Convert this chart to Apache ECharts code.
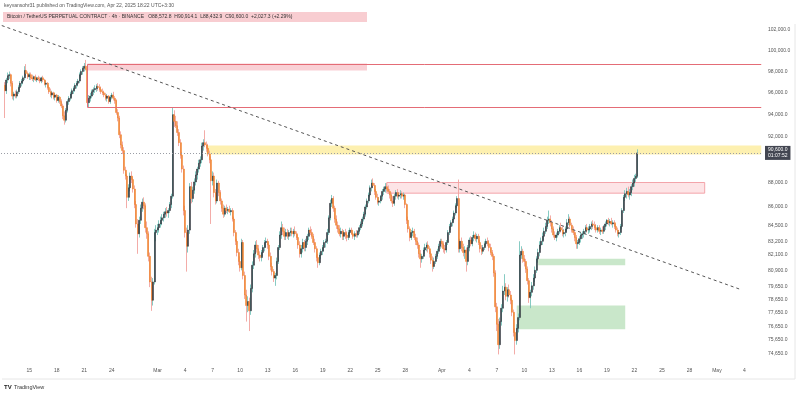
<!DOCTYPE html>
<html><head><meta charset="utf-8">
<script src="https://cdn.jsdelivr.net/npm/echarts@6/dist/echarts.min.js"></script>
<style>html,body{margin:0;padding:0;background:#fff}#c{width:800px;height:394px}</style>
</head><body><div id="c"></div>
<script>
// ---- axis definition ----
const axisStartUTC = [2025, 1, 12];          // 2025-02-12 00:00, 4h slots
const axisSlots = 498;                       // through 2025-05-05 20:00
const firstCandle = '2025-02-12 08:00';

// ---- BTCUSDT.P 4h candles: [open, high, low, close], one line per day ----
const candles = [
[96700,97000,93700,96200],[96200,97400,95900,97200],[97200,97900,96900,97600],[97600,98000,97300,97700],
[97700,97800,96600,96900],[96900,97100,95400,95700],[95700,96100,95300,95900],[95900,96200,95500,95700],[95700,96300,95500,96100],[96100,96700,95900,96500],
[96500,97100,96300,96900],[96900,97300,96600,97100],[97100,97600,96800,97400],[97400,98500,97200,98100],[98100,98700,97600,97800],[97800,98000,97300,97500],
[97500,97900,97200,97700],[97700,97900,97200,97400],[97400,97700,97100,97300],[97300,97600,97000,97500],[97500,97700,97100,97200],[97200,97500,97000,97400],
[97400,97600,97100,97300],[97300,97500,96900,97100],[97100,97500,96900,97400],[97400,97600,97000,97200],[97200,97300,96700,96800],[96800,97100,96500,96900],
[96900,97000,96300,96500],[96500,96700,95900,96100],[96100,96400,95600,95800],[95800,96200,95500,96000],[96000,96100,95400,95600],[95600,96000,95300,95800],
[95800,95900,95100,95300],[95300,95800,95100,95600],[95600,95700,95000,95200],[95200,95400,94600,94800],[94800,95000,93600,93900],[93900,94300,93100,93500],
[93500,94600,93300,94400],[94400,95400,94200,95200],[95200,95700,94900,95500],[95500,96100,95300,95900],[95900,96400,95600,96200],[96200,96600,95900,96400],
[96400,96900,96100,96700],[96700,97100,96400,96900],[96900,97300,96600,97100],[97100,97900,96900,97700],[97700,98200,97400,98000],[98000,98500,97700,98300],
[98300,98800,98000,98500],[98500,99100,98100,98200],[98200,98600,94700,95100],[95100,95800,94700,95500],[95500,96000,95200,95700],[95700,96300,95500,96100],
[96100,96500,95800,96300],[96300,96700,96000,96400],[96400,96800,96100,96600],[96600,96900,96200,96500],[96500,96800,96100,96300],[96300,96600,95900,96100],
[96100,96400,95800,96000],[96000,96200,95600,95800],[95800,96000,95300,95500],[95500,95900,95200,95700],[95700,95800,95000,95200],[95200,95800,95000,95600],
[95600,96000,95400,95800],[95800,96100,95300,95500],[95500,95700,95000,95300],[95300,95400,94000,94200],[94200,94500,93400,93700],[93700,93900,91900,92200],
[92200,92500,91000,91300],[91300,91600,90500,90800],[90800,91100,88800,89100],[89100,89400,88300,88600],[88600,88800,85900,86800],[86800,87900,86500,87600],
[87600,88900,87300,88600],[88600,89000,88000,88300],[88300,88500,87200,87500],[87500,87800,85900,86200],[86200,86500,84300,84600],[84600,85000,82200,83800],
[83800,85200,83500,84900],[84900,86200,84600,85900],[85900,86700,85600,86400],[86400,86800,85800,86100],[86100,86300,83900,84300],[84300,84800,83400,83800],
[83800,84000,81600,82000],[82000,82300,79600,80000],[80000,80400,77800,78600],[78600,80300,78200,80000],[80000,84200,79800,83900],[83900,84500,83200,84100],
[84100,84600,83700,84300],[84300,84900,83900,84600],[84600,85200,84300,84900],[84900,85400,84500,85100],[85100,85600,84800,85400],[85400,85900,85100,85600],
[85600,86000,85200,85500],[85500,85900,85100,85700],[85700,86400,85500,86200],[86200,87100,85900,86900],[86900,94700,86700,94000],[94000,94400,92900,93400],
[93400,93900,92800,93000],[93000,93400,92100,92400],[92400,92700,91200,91500],[91500,91800,90100,90400],[90400,90700,88900,89200],[89200,89500,85300,85700],
[85700,86100,83500,83900],[83900,84300,80800,82800],[82800,84500,82300,84100],[84100,88000,83800,87700],[87700,88100,86300,86700],[86700,87700,86400,87400],
[87400,88400,87100,88100],[88100,89000,87800,88700],[88700,89400,88300,89200],[89200,90000,88900,89700],[89700,90300,89400,90000],[90000,91500,89700,91200],
[91200,91800,90800,91500],[91500,92600,91100,91300],[91300,91600,90700,91000],[91000,91400,90300,90500],[90500,90800,89700,90000],[90000,90300,84600,88200],
[88200,89000,87800,88600],[88600,88900,86800,87200],[87200,87500,86200,86500],[86500,88300,86300,88000],[88000,88200,86900,87200],[87200,87400,86200,86500],
[86500,86700,85600,85900],[85900,86200,85100,85400],[85400,86100,85200,85900],[85900,86200,85500,85700],[85700,86000,85400,85800],[85800,86100,85500,85600],
[85600,85900,85300,85700],[85700,85900,84800,85000],[85000,85200,83600,83900],[83900,84100,82900,83200],[83200,83400,82000,82300],[82300,82600,81300,81600],
[81600,82000,80800,81100],[81100,83400,80900,83100],[83100,83300,80200,80500],[80500,80800,78700,79000],[79000,79400,77000,78200],[78200,78900,77700,78500],
[78500,78800,76300,77800],[77800,79800,77500,79500],[79500,81600,79200,81300],[81300,82500,81000,82200],[82200,83200,81900,82900],[82900,83300,82300,82600],
[82600,82900,81800,82100],[82100,82400,81600,81900],[81900,82500,81600,82300],[82300,82900,82000,82700],[82700,83300,82400,83100],[83100,83500,82700,83200],
[83200,83400,82600,82900],[82900,83100,81700,82000],[82000,82300,80900,81200],[81200,81500,80500,80800],[80800,81000,80000,80300],[80300,80700,79700,80500],
[80500,81900,80200,81600],[81600,82900,81400,82700],[82700,84000,82500,83700],[83700,84800,83400,84300],[84300,84600,83700,84000],[84000,84300,83300,83600],
[83600,84200,83300,83900],[83900,84200,83400,83600],[83600,84100,83300,83900],[83900,84300,83600,84000],[84000,84300,83600,83800],[83800,84200,83500,84000],
[84000,84400,83600,83800],[83800,84000,83300,83500],[83500,83700,82600,82900],[82900,83200,81900,82200],[82200,82900,81900,82600],[82600,83400,82300,83100],
[83100,83300,82400,82700],[82700,83400,82400,83200],[83200,83800,82900,83600],[83600,84300,83300,84100],[84100,84400,83700,83900],[83900,84200,83400,83600],
[83600,83800,82900,83100],[83100,83400,82300,82600],[82600,82800,81600,81900],[81900,82200,81100,81500],[81500,82300,81300,82100],[82100,82600,81800,82400],
[82400,82900,82100,82700],[82700,83300,82400,83100],[83100,83400,82700,83200],[83200,84200,83000,83900],[83900,85300,83700,85100],[85100,86600,84900,86300],
[86300,87000,86000,86700],[86700,86900,85600,85900],[85900,86100,84700,85000],[85000,85300,84200,84500],[84500,84800,83900,84200],[84200,84500,83600,83800],
[83800,84300,83500,84000],[84000,84200,83300,83600],[83600,84100,83300,83900],[83900,84200,83400,83700],[83700,84000,83200,83500],[83500,84100,83300,83900],
[83900,84300,83600,84100],[84100,84300,83700,83800],[83800,84000,83400,83600],[83600,84000,83300,83800],[83800,84100,83500,83700],[83700,84100,83500,84000],
[84000,84500,83800,84300],[84300,84800,84100,84600],[84600,85200,84400,85000],[85000,85600,84800,85400],[85400,86200,85200,86000],[86000,86700,85800,86500],
[86500,87200,86300,87000],[87000,87800,86800,87600],[87600,88300,87300,88000],[88000,88400,87600,87800],[87800,88000,87000,87300],[87300,87500,86600,86800],
[86800,87100,86200,86400],[86400,86800,86100,86500],[86500,87000,86300,86900],[86900,87500,86600,87300],[87300,87700,87000,87500],[87500,88000,87200,87700],
[87700,88000,87300,87500],[87500,87800,87100,87300],[87300,87500,86700,87000],[87000,87200,86300,86500],[86500,86900,86000,86300],[86300,87100,86100,86900],
[86900,87400,86600,87200],[87200,87500,86700,86900],[86900,87200,86600,87000],[87000,87400,86700,87100],[87100,87300,86700,86900],[86900,87200,86600,87000],
[87000,87100,85900,86200],[86200,86300,84600,84900],[84900,85200,83900,84200],[84200,84400,83200,83500],[83500,84100,83300,83900],[83900,84300,83600,84000],
[84000,84200,83300,83500],[83500,83800,82900,83200],[83200,83500,82600,82900],[82900,83100,81900,82200],[82200,82500,81100,81800],[81800,82200,81500,82000],
[82000,82700,81800,82500],[82500,83000,82200,82700],[82700,83100,82400,82900],[82900,83200,82300,82600],[82600,82800,81900,82200],[82200,82400,81400,81700],
[81700,82000,80800,81200],[81200,81900,81000,81600],[81600,82200,81400,82000],[82000,82600,81800,82400],[82400,83000,82200,82800],[82800,83400,82600,83200],
[83200,83400,82700,83000],[83000,83200,82300,82600],[82600,82900,82200,82500],[82500,83300,82300,83100],[83100,84100,82900,83900],[83900,84600,83700,84400],
[84400,84900,84100,84700],[84700,85200,84400,85000],[85000,85700,84800,85500],[85500,86300,85300,86100],[86100,86900,85900,86700],[86700,88300,82300,82600],
[82600,83400,82300,83200],[83200,83500,82400,82700],[82700,83000,82000,82300],[82300,82800,81800,82500],[82500,82700,80800,81600],[81600,82900,81300,82700],
[82700,83500,82400,83300],[83300,83600,82800,83000],[83000,83700,82800,83500],[83500,84000,83200,83700],[83700,83900,83200,83400],[83400,83800,83100,83600],
[83600,83800,82900,83100],[83100,83300,82300,82600],[82600,82900,82100,82400],[82400,82900,82200,82700],[82700,83200,82500,83000],[83000,83400,82800,83200],
[83200,83500,82800,83000],[83000,83300,82400,82700],[82700,83000,82100,82300],[82300,82500,81700,82000],[82000,82200,80400,80700],[80700,80900,77700,78100],
[78100,78400,76300,76800],[76800,77200,74600,75300],[75300,77300,75000,77000],[77000,78300,76700,78000],[78000,79700,77700,79300],[79300,80600,79000,79600],
[79600,79900,78600,78900],[78900,79600,78500,79400],[79400,79800,78800,79000],[79000,79300,78300,78600],[78600,78800,77400,77700],[77700,77900,75900,76200],
[76200,76500,74600,75600],[75600,76800,75300,76500],[76500,77600,76200,77300],[77300,83200,77100,82100],[82100,82800,81800,82400],[82400,82600,81500,81800],
[81800,82100,81200,81600],[81600,81800,80700,81000],[81000,81200,79800,80100],[80100,80300,78400,78800],[78800,79400,78000,79200],[79200,80000,78900,79700],
[79700,80600,79400,80300],[80300,81200,80000,80900],[80900,82000,80700,81800],[81800,82600,81500,82300],[82300,83200,82000,82900],[82900,83500,82600,83200],
[83200,83900,82900,83600],[83600,84300,83300,84000],[84000,84700,83800,84400],[84400,85200,84200,84900],[84900,85700,84600,85000],[85000,85300,84400,84700],
[84700,84900,83900,84200],[84200,84400,83500,83700],[83700,84000,83300,83500],[83500,83900,83200,83700],[83700,84200,83500,84000],[84000,84500,83800,84300],
[84300,84700,83900,84100],[84100,84400,83600,83800],[83800,84200,83500,83900],[83900,84400,83600,84200],[84200,85000,84000,84700],[84700,85400,84500,85000],
[85000,85200,84300,84500],[84500,84700,83900,84100],[84100,84400,83700,83900],[83900,84100,83200,83500],[83500,83700,82600,83000],[83000,83300,82600,83100],
[83100,83600,82900,83400],[83400,83900,83100,83700],[83700,84000,83400,83800],[83800,84200,83500,84000],[84000,84500,83800,84300],[84300,84600,83900,84100],
[84100,84400,83800,84200],[84200,84600,83900,84400],[84400,84800,84100,84600],[84600,84900,84200,84500],[84500,84800,84100,84300],[84300,84600,83900,84100],
[84100,84500,83900,84300],[84300,84500,83800,84000],[84000,84300,83700,84100],[84100,84400,83800,84000],[84000,84500,83800,84400],[84400,84800,84100,84600],
[84600,85000,84400,84900],[84900,85100,84500,84700],[84700,85000,84400,84800],[84800,85100,84500,84600],[84600,84900,84300,84700],[84700,84900,84200,84400],
[84400,84600,83900,84100],[84100,84300,83600,83800],[83800,84100,83500,83900],[83900,84600,83700,84400],[84400,85900,84200,85700],[85700,87000,85500,86800],
[86800,87400,86500,87100],[87100,87600,86700,87300],[87300,87700,86800,87000],[87000,87500,86600,87200],[87200,87900,86900,87700],[87700,88300,87400,88000],
[88000,88700,87700,88400],[88400,88800,88100,88573],[88573,90914,88433,90600]
];

// ---- axes ----
const priceTicks = [102000,100000,98000,96000,94000,92000,88000,86000,84500,83200,82100,80900,79650,78650,77650,76650,75650,74650];
const dateTicks = ['02-15','02-18','02-21','02-24','03-01','03-04','03-07','03-10','03-13','03-16','03-19','03-22','03-25','03-28',
                   '04-01','04-04','04-07','04-10','04-13','04-16','04-19','04-22','04-25','04-28','05-01','05-04'];
const monthNames = {'02':'Feb','03':'Mar','04':'Apr','05':'May'};
const yMin = 74056, yMax = 102691;
const lastPrice = 90600;
const countdown = '01:07:52';

// ---- drawings (time, price) ----
const supplyBand   = ['2025-02-21 08:00', '2025-03-23 20:00', 98100, 98750];
const redLevels    = [98650, 94700];
const redStart     = '2025-02-21 08:00';
const yellowZone   = ['2025-03-06 08:00', null, 90450, 91250];
const resistBox    = ['2025-03-26 00:00', '2025-04-29 16:00', 87150, 88050];
const demandUpper  = ['2025-04-11 12:00', '2025-04-21 00:00', 81290, 81800];
const demandLower  = ['2025-04-09 04:00', '2025-04-21 00:00', 76430, 78200];
const trendline    = [['2025-02-12 00:00', 102440], ['2025-05-03 16:00', 79400]];

// ---- build ----
const pad = n => String(n).padStart(2, '0');
const fmtT = ms => { const d = new Date(ms); return d.getUTCFullYear() + '-' + pad(d.getUTCMonth()+1) + '-' + pad(d.getUTCDate()) + ' ' + pad(d.getUTCHours()) + ':' + pad(d.getUTCMinutes()); };
const t0 = Date.UTC(axisStartUTC[0], axisStartUTC[1], axisStartUTC[2]);
const categories = [];
for (let i = 0; i < axisSlots; i++) categories.push(fmtT(t0 + i * 4 * 3600e3));
const lastCat = categories[categories.length - 1];
const startIdx = categories.indexOf(firstCandle);
const tickSet = new Set(dateTicks.map(d => '2025-' + d + ' 00:00'));

const wickData = candles.map((c, k) => [categories[startIdx + k], c[0], c[3], c[2], c[1]]);
const bodyData = candles.map((c, k) => [categories[startIdx + k], c[0], c[3], Math.min(c[0], c[3]), Math.max(c[0], c[3])]);

const fmtPrice = v => Number(v).toLocaleString('en-US', {minimumFractionDigits: 1, maximumFractionDigits: 1});
const FONT = '"Liberation Sans", Arial, sans-serif';

function area(z, style) {
  return [{xAxis: z[0], yAxis: z[2], itemStyle: style}, {xAxis: z[1] || lastCat, yAxis: z[3]}];
}
const redStyle = {color: '#e46c76', width: 1, type: 'solid'};

const chart = echarts.init(document.getElementById('c'), null, {renderer: 'canvas'});
chart.setOption({
  animation: false,
  backgroundColor: '#ffffff',
  textStyle: {fontFamily: FONT},
  grid: {left: 1, right: 38, top: 23, bottom: 32, containLabel: false},
  xAxis: {
    type: 'category', data: categories, boundaryGap: true,
    axisLine: {show: false}, axisTick: {show: false}, splitLine: {show: false},
    axisLabel: {
      interval: (i, v) => tickSet.has(v),
      formatter: v => { const m = v.slice(5, 7), d = v.slice(8, 10); return d === '01' ? monthNames[m] : String(+d); },
      fontSize: 5, color: '#555', margin: 6, fontFamily: FONT
    }
  },
  yAxis: {
    type: 'log', position: 'right', min: yMin, max: yMax,
    axisLine: {show: false}, axisTick: {show: false}, splitLine: {show: false},
    axisLabel: {customValues: priceTicks, formatter: v => fmtPrice(v), fontSize: 5, color: '#555', margin: 6, fontFamily: FONT}
  },
  series: [
    {
      name: 'drawings', type: 'line', data: [], z: 1, silent: true,
      markArea: {
        silent: true,
        data: [
          area(supplyBand,  {color: '#f9d0d5'}),
          area(yellowZone,  {color: '#fdf0b0'}),
          area(resistBox,   {color: '#fde4e6', borderColor: '#f3a4aa', borderWidth: 1}),
          area(demandUpper, {color: '#c9e7ca'}),
          area(demandLower, {color: '#c9e7ca'})
        ]
      },
      markLine: {
        silent: true, symbol: ['none', 'none'], label: {show: false},
        data: [
          [{coord: [redStart, redLevels[0]], lineStyle: redStyle}, {coord: [lastCat, redLevels[0]]}],
          [{coord: [redStart, redLevels[1]], lineStyle: redStyle}, {coord: [lastCat, redLevels[1]]}],
          [{coord: [redStart, redLevels[0]], lineStyle: redStyle}, {coord: [redStart, redLevels[1]]}],
          [{coord: trendline[0], lineStyle: {color: '#555', width: 1, type: [3, 3]}}, {coord: trendline[1]}],
          {yAxis: lastPrice, lineStyle: {color: '#9a9da5', width: 1, type: [1, 2]},
           label: {show: true, position: 'end', distance: 3, formatter: fmtPrice(lastPrice) + '\n' + countdown,
                   backgroundColor: '#434651', color: '#fff', fontSize: 5, lineHeight: 6, padding: [1, 3], fontFamily: FONT}}
        ]
      }
    },
    {
      name: 'wicks', type: 'candlestick', data: wickData, encode: {x: 0, y: [1, 2, 3, 4]},
      z: 3, large: false, barWidth: 0.4, silent: true,
      itemStyle: {color: '#79c5bc', color0: '#f2a39e', borderColor: '#79c5bc', borderColor0: '#f2a39e', borderWidth: 0.9}
    },
    {
      name: 'bodies', type: 'candlestick', data: bodyData, encode: {x: 0, y: [1, 2, 3, 4]},
      z: 4, large: false, barWidth: 1.5, silent: true,
      itemStyle: {color: '#2f323a', color0: '#f0842e', borderColor: '#2f323a', borderColor0: '#f0842e', borderWidth: 0.5}
    }
  ],
  graphic: [
    {type: 'text', left: 4, top: 3, style: {text: 'keyvansohr31 published on TradingView.com, Apr 22, 2025 18:22 UTC+3:30', fontSize: 5, fill: '#555', fontFamily: FONT}},
    {type: 'rect', shape: {x: 3, y: 12, width: 364, height: 10}, style: {fill: '#f8cdd1'}, z: 10},
    {type: 'text', x: 7, y: 17, z: 11, style: {text: 'Bitcoin / TetherUS PERPETUAL CONTRACT · 4h · BINANCE   O88,572.8  H90,914.1  L88,432.9  C90,600.0  +2,027.3 (+2.29%)', fontSize: 5, fill: '#333', verticalAlign: 'middle', fontFamily: FONT}},
    {type: 'line', shape: {x1: 2, y1: 379, x2: 795, y2: 379}, style: {stroke: '#e6e6e6', lineWidth: 1}},
    {type: 'line', shape: {x1: 795, y1: 24, x2: 795, y2: 379}, style: {stroke: '#e6e6e6', lineWidth: 1}},
    {type: 'text', x: 4, y: 387, style: {text: 'TV', fontSize: 6, fontWeight: 'bold', fill: '#222', verticalAlign: 'middle', fontFamily: FONT}},
    {type: 'text', x: 14, y: 387, style: {text: 'TradingView', fontSize: 5.5, fill: '#333', verticalAlign: 'middle', fontFamily: FONT}}
  ]
});
</script>
</body></html>
